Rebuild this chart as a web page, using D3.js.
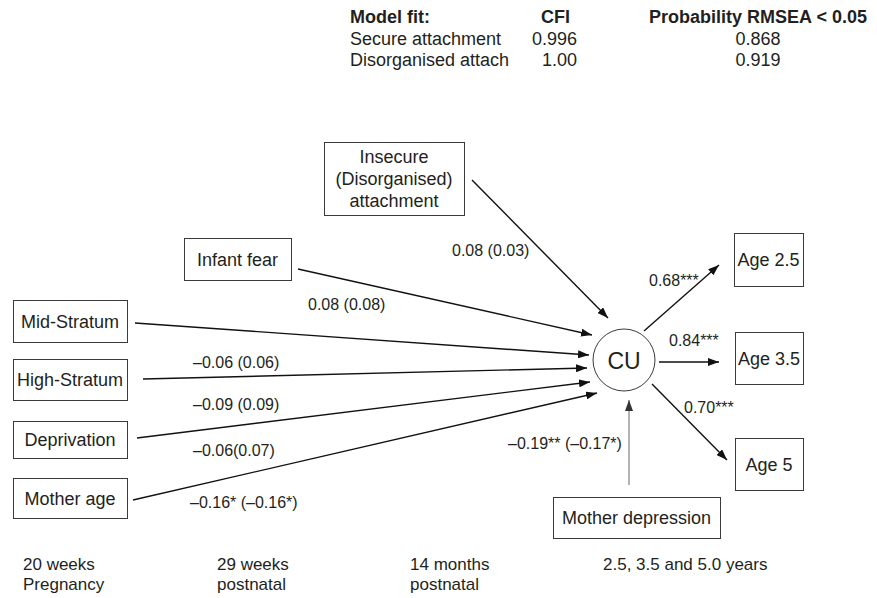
<!DOCTYPE html>
<html>
<head>
<meta charset="utf-8">
<script src="https://cdn.jsdelivr.net/npm/d3@7"></script>
<style>
  body { margin: 0; background: #fff; }
  svg text { font-family: "Liberation Sans", Arial, sans-serif; fill: #231f20; }
</style>
</head>
<body>
<div id="chart"></div>
<script>
// data
var nodeNames = ["Insecure\n(Disorganised)\nattachment", "Infant fear", "Mid-Stratum", "High-Stratum",
                 "Deprivation", "Mother age", "Age 2.5", "Age 3.5", "Age 5", "Mother depression"];
var pathLabels = ["0.08 (0.03)", "0.08  (0.08)", "\u20130.06 (0.06)", "\u20130.09 (0.09)",
                  "\u20130.06(0.07)", "\u20130.16* (\u20130.16*)", "0.68***", "0.84***", "0.70***",
                  "\u20130.19** (\u20130.17*)"];
var fitHeader = ["Model fit:", "CFI", "Probability RMSEA < 0.05"];
var fitModels = ["Secure attachment", "Disorganised attach"];
var fitCFI = ["0.996", "1.00"];
var fitRMSEA = ["0.868", "0.919"];
var timeLabels = ["20 weeks\nPregnancy", "29 weeks\npostnatal", "14 months\npostnatal", "2.5, 3.5 and 5.0 years"];

// layout (pixel geometry, kept apart from the values)
var boxes = [
    [324, 142, 140, 73], [184, 238, 107, 42], [13, 300, 114, 42], [13, 359, 114, 41],
    [13, 421, 114, 37], [13, 478, 114, 40], [734, 233, 69, 53], [735, 332, 68, 52],
    [735, 438, 68, 52], [553, 497, 167, 41]
];
var cu = {cx: 624, cy: 360, r: 31};
// edge ends: [x1, y1, x2, y2]
var edges = [
    [472, 180, 608, 318], [298, 269, 592, 335], [135, 323, 589, 355], [143, 379, 587, 368],
    [137, 438, 590, 382], [133, 500, 597, 393], [644, 331, 719, 265], [659, 362, 719, 362],
    [652, 384, 727, 460], [629, 485, 629, 400]
];
var labelPos = [
    [452, 256], [308, 310], [193, 368], [193, 410], [193, 456], [190, 508],
    [649, 286], [669, 346], [684, 413], [508, 449]
];

var W = 877, H = 598;
var svg = d3.select("#chart").append("svg").attr("width", W).attr("height", H);

var defs = svg.append("defs");
[["arrowBlack", "#111"], ["arrowGrey", "#333"]].forEach(function(m) {
    defs.append("marker")
        .attr("id", m[0])
        .attr("markerUnits", "userSpaceOnUse")
        .attr("viewBox", "0 0 11 8")
        .attr("refX", 11).attr("refY", 4)
        .attr("markerWidth", 11).attr("markerHeight", 8)
        .attr("orient", "auto")
        .append("path")
        .attr("d", "M0,0 L11,4 L0,8 Z")
        .attr("fill", m[1]);
});

// model fit table
var tbl = svg.append("g").attr("font-size", 18);
var rowY = [23, 45, 66];
tbl.selectAll("text.hdr").data(fitHeader).enter().append("text")
    .attr("class", "hdr")
    .attr("x", function(d, i) { return [350, 570, 758][i]; })
    .attr("y", rowY[0])
    .attr("text-anchor", function(d, i) { return ["start", "end", "middle"][i]; })
    .attr("font-weight", "bold")
    .text(function(d) { return d; });
fitModels.forEach(function(m, i) {
    tbl.append("text").attr("x", 350).attr("y", rowY[i + 1]).text(m);
    tbl.append("text").attr("x", 577).attr("y", rowY[i + 1]).attr("text-anchor", "end").text(fitCFI[i]);
    tbl.append("text").attr("x", 758).attr("y", rowY[i + 1]).attr("text-anchor", "middle").text(fitRMSEA[i]);
});

// edges
svg.append("g").selectAll("line").data(edges).enter().append("line")
    .attr("x1", function(d) { return d[0]; })
    .attr("y1", function(d) { return d[1]; })
    .attr("x2", function(d) { return d[2]; })
    .attr("y2", function(d) { return d[3]; })
    .attr("stroke", function(d, i) { return i === 9 ? "#555" : "#111"; })
    .attr("stroke-width", function(d, i) { return i === 9 ? 0.9 : 1.4; })
    .attr("marker-end", function(d, i) { return i === 9 ? "url(#arrowGrey)" : "url(#arrowBlack)"; });

// boxes
var nodes = svg.append("g").selectAll("g").data(nodeNames).enter().append("g");
nodes.append("rect")
    .attr("x", function(d, i) { return boxes[i][0] + 0.5; })
    .attr("y", function(d, i) { return boxes[i][1] + 0.5; })
    .attr("width", function(d, i) { return boxes[i][2]; })
    .attr("height", function(d, i) { return boxes[i][3]; })
    .attr("fill", "#fff")
    .attr("stroke", "#3a3a3a")
    .attr("stroke-width", 1);
nodes.append("text")
    .attr("text-anchor", "middle")
    .attr("font-size", 18)
    .each(function(d, i) {
        var b = boxes[i], lines = d.split("\n"), lh = 22;
        var y0 = b[1] + b[3] / 2 + 6.5 - (lines.length - 1) * lh / 2;
        d3.select(this).selectAll("tspan").data(lines).enter().append("tspan")
            .attr("x", b[0] + b[2] / 2)
            .attr("y", function(l, j) { return y0 + j * lh; })
            .text(function(l) { return l; });
    });

// latent CU
svg.append("circle").attr("cx", cu.cx).attr("cy", cu.cy).attr("r", cu.r)
    .attr("fill", "#fff").attr("stroke", "#3a3a3a").attr("stroke-width", 1);
svg.append("text").attr("x", cu.cx).attr("y", cu.cy + 8.5)
    .attr("text-anchor", "middle").attr("font-size", 23).text("CU");

// coefficients
svg.append("g").attr("font-size", 16).selectAll("text").data(pathLabels).enter().append("text")
    .attr("x", function(d, i) { return labelPos[i][0]; })
    .attr("y", function(d, i) { return labelPos[i][1]; })
    .text(function(d) { return d; });

// time points
var timeX = [23, 217, 410, 603];
svg.append("g").attr("font-size", 17).selectAll("text").data(timeLabels).enter().append("text")
    .each(function(d, i) {
        d3.select(this).selectAll("tspan").data(d.split("\n")).enter().append("tspan")
            .attr("x", timeX[i])
            .attr("y", function(l, j) { return 570 + j * 20; })
            .text(function(l) { return l; });
    });
</script>
</body>
</html>
